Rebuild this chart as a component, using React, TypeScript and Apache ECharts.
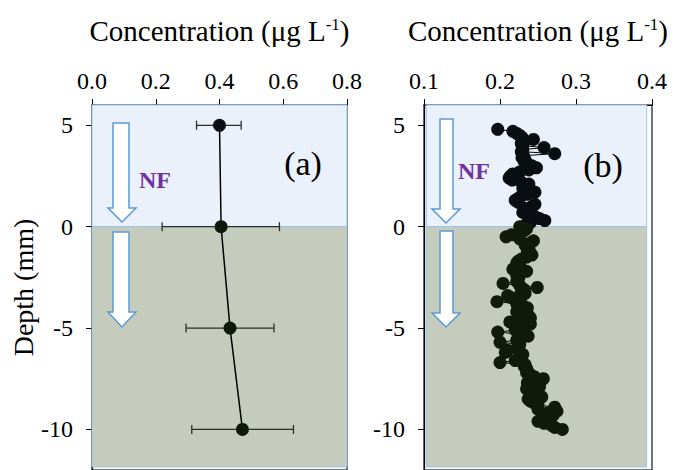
import React, { useEffect, useRef } from "react";
import * as echarts from "echarts";

// Panel (a): depth profile with error bars
const depthA = [5, 0, -5, -10];
const concA = [0.4, 0.405, 0.433, 0.472];
const errLowA = [0.328, 0.22, 0.295, 0.313];
const errHighA = [0.468, 0.588, 0.571, 0.632];

// Panel (b): high-resolution depth profile
const depthB = [
  4.8, 4.7, 4.6, 4.5, 4.4, 4.3, 4.2, 4.1, 4.0, 3.9, 3.8, 3.7, 3.6, 3.5, 3.4, 3.3, 3.2, 3.1, 3.0,
  2.9, 2.8, 2.7, 2.6, 2.5, 2.4, 2.3, 2.2, 2.1, 2.0, 1.9, 1.8, 1.7, 1.6, 1.5, 1.4, 1.3, 1.2, 1.1,
  1.0, 0.9, 0.8, 0.7, 0.6, 0.5, 0.4, 0.3, 0.2, 0.1, 0.0,
  -0.1, -0.2, -0.3, -0.4, -0.5, -0.6, -0.7, -0.8, -0.9, -1.0, -1.1, -1.2, -1.3, -1.4, -1.5,
  -1.6, -1.7, -1.8, -1.9, -2.0, -2.1, -2.2, -2.3, -2.4, -2.5, -2.6, -2.7, -2.8, -2.9, -3.0,
  -3.1, -3.2, -3.3, -3.4, -3.5, -3.6, -3.7, -3.8, -3.9, -4.0, -4.1, -4.2, -4.3, -4.4, -4.5,
  -4.6, -4.7, -4.8, -4.9, -5.0, -5.1, -5.2, -5.3, -5.4, -5.5, -5.6, -5.7, -5.8, -5.9, -6.0,
  -6.1, -6.2, -6.3, -6.4, -6.5, -6.6, -6.7, -6.8, -6.9, -7.0, -7.1, -7.2, -7.3, -7.4, -7.5,
  -7.6, -7.7, -7.8, -7.9, -8.0, -8.1, -8.2, -8.3, -8.4, -8.5, -8.6, -8.7, -8.8, -8.9, -9.0,
  -9.1, -9.2, -9.3, -9.4, -9.5, -9.6, -9.7, -9.8, -9.9, -10.0,
];
const concB = [
  0.197, 0.217, 0.222, 0.226, 0.229, 0.244, 0.232, 0.228, 0.23, 0.258, 0.23, 0.228, 0.272, 0.231,
  0.229, 0.233, 0.232, 0.236, 0.242, 0.248, 0.238, 0.226, 0.217, 0.214, 0.212, 0.216, 0.228, 0.238,
  0.236, 0.23, 0.24, 0.246, 0.236, 0.228, 0.224, 0.22, 0.224, 0.246, 0.242, 0.234, 0.236, 0.23,
  0.238, 0.246, 0.252, 0.259, 0.24, 0.234, 0.226,
  0.235, 0.232, 0.225, 0.215, 0.208, 0.226, 0.244, 0.24, 0.233, 0.235, 0.238, 0.236, 0.24, 0.242,
  0.235, 0.228, 0.224, 0.222, 0.226, 0.222, 0.217, 0.235, 0.226, 0.222, 0.225, 0.223, 0.222,
  0.204, 0.226, 0.249, 0.232, 0.228, 0.233, 0.21, 0.215, 0.225, 0.196, 0.222, 0.23, 0.236, 0.232,
  0.222, 0.235, 0.238, 0.24, 0.228, 0.213, 0.24, 0.232, 0.225, 0.22, 0.197, 0.228, 0.237, 0.226,
  0.222, 0.2, 0.226, 0.225, 0.222, 0.21, 0.207, 0.23, 0.228, 0.226, 0.22, 0.2, 0.233, 0.232, 0.235,
  0.236, 0.235, 0.24, 0.245, 0.257, 0.238, 0.236, 0.238, 0.252, 0.235, 0.238, 0.242, 0.25, 0.255,
  0.237, 0.24, 0.245, 0.25, 0.272, 0.25, 0.275, 0.262, 0.27, 0.262, 0.255, 0.25, 0.258, 0.268,
  0.272, 0.282,
];

const yTicks = [5, 0, -5, -10];

const FONT = "Liberation Serif";
const BLUE_BG = "#EBF1FA";
const GRAY_BG = "#C5CCBD";
const EDGE = "#9DC3E6";
const ARROW = "#5B9BD5";

function arrow(x0: number, x1: number, hx0: number, hx1: number, top: number, head: number, tip: number) {
  const cx = (hx0 + hx1) / 2;
  return {
    type: "polygon",
    z: 50,
    shape: {
      points: [
        [x0, top],
        [x1, top],
        [x1, head],
        [hx1, head],
        [cx, tip],
        [hx0, head],
        [x0, head],
      ],
    },
    style: { fill: "#ffffff", stroke: ARROW, lineWidth: 1.5 },
  };
}

export default function App() {
  const ref = useRef<HTMLDivElement>(null);
  useEffect(() => {
    if (!ref.current) return;
    const chart = echarts.init(ref.current, undefined, { renderer: "svg" });

    const axisName = {
      a: { fontFamily: FONT, fontSize: 29, color: "#000" },
      sup: { fontFamily: FONT, fontSize: 17, color: "#000", verticalAlign: "top", padding: [0, 0, 12, 0] },
    };

    const xAxisCommon = (min: number, max: number, interval: number) => ({
      type: "value",
      position: "top",
      min,
      max,
      interval,
      name: "{a|Concentration (μg L}{sup|-1}{a|)}",
      nameLocation: "middle",
      nameGap: 60,
      nameTextStyle: { rich: axisName },
      axisLine: { show: true, onZero: false, lineStyle: { color: "#000", width: 1.2 } },
      axisTick: { show: true, inside: false, length: 6, lineStyle: { color: "#000" } },
      axisLabel: {
        fontFamily: FONT,
        fontSize: 24,
        color: "#000",
        margin: 12,
        formatter: (v: number) => v.toFixed(1),
      },
      splitLine: { show: false },
    });

    const yAxisCommon = (showName: boolean) => ({
      type: "value",
      min: -12,
      max: 6,
      name: showName ? "Depth (mm)" : "",
      nameLocation: "middle",
      nameGap: 50,
      nameTextStyle: { fontFamily: FONT, fontSize: 28, color: "#000" },
      axisLine: { show: true, onZero: false, lineStyle: { color: "#000", width: 1.2 } },
      axisTick: { show: true, length: 6, customValues: yTicks, lineStyle: { color: "#000" } },
      axisLabel: {
        fontFamily: FONT,
        fontSize: 24,
        color: "#000",
        margin: 19,
        customValues: yTicks,
      },
      splitLine: { show: false },
    });

    const bgAreas = (x0: number, x1: number) => ({
      silent: true,
      data: [
        [
          { xAxis: x0, yAxis: 6, itemStyle: { color: BLUE_BG, borderColor: EDGE, borderWidth: 1 } },
          { xAxis: x1, yAxis: 0 },
        ],
        [
          { xAxis: x0, yAxis: 0, itemStyle: { color: GRAY_BG, borderColor: EDGE, borderWidth: 1 } },
          { xAxis: x1, yAxis: -11.85 },
        ],
      ],
    });

    const dataA = depthA.map((d, i) => ({
      value: [concA[i], d],
      itemStyle: { color: d > 0 ? "#0b0f14" : "#10180c" },
    }));
    const errA = depthA.map((d, i) => [errLowA[i], errHighA[i], d]);
    const dataB = depthB.map((d, i) => ({
      value: [concB[i], d],
      itemStyle: { color: d > 0 ? "#0a0d12" : "#111a0b" },
    }));

    chart.setOption({
      animation: false,
      grid: [
        { left: 92, top: 105, width: 255, height: 365, show: true, borderColor: "#3a4654", borderWidth: 1.5, backgroundColor: "transparent" },
        { left: 424, top: 105, width: 228, height: 365, show: true, borderColor: "#3a4654", borderWidth: 1.5, backgroundColor: "transparent" },
      ],
      xAxis: [
        { ...xAxisCommon(0, 0.8, 0.2), gridIndex: 0 },
        { ...xAxisCommon(0.1, 0.4, 0.1), gridIndex: 1 },
      ],
      yAxis: [
        { ...yAxisCommon(true), gridIndex: 0 },
        { ...yAxisCommon(false), gridIndex: 1 },
      ],
      series: [
        {
          type: "custom",
          xAxisIndex: 0,
          yAxisIndex: 0,
          z: 3,
          markArea: bgAreas(0, 0.8),
          data: errA,
          renderItem: (params: any, api: any) => {
            const lo = api.coord([api.value(0), api.value(2)]);
            const hi = api.coord([api.value(1), api.value(2)]);
            const c = 4.5;
            const st = { stroke: "#2b2f2b", lineWidth: 1.3 };
            return {
              type: "group",
              children: [
                { type: "line", shape: { x1: lo[0], y1: lo[1], x2: hi[0], y2: hi[1] }, style: st },
                { type: "line", shape: { x1: lo[0], y1: lo[1] - c, x2: lo[0], y2: lo[1] + c }, style: st },
                { type: "line", shape: { x1: hi[0], y1: hi[1] - c, x2: hi[0], y2: hi[1] + c }, style: st },
              ],
            };
          },
        },
        {
          type: "line",
          xAxisIndex: 0,
          yAxisIndex: 0,
          z: 4,
          data: dataA,
          symbol: "circle",
          symbolSize: 13,
          lineStyle: { color: "#000", width: 1.5 },
        },
        {
          type: "line",
          xAxisIndex: 1,
          yAxisIndex: 1,
          z: 4,
          markArea: bgAreas(0.103, 0.393),
          data: dataB,
          symbol: "circle",
          symbolSize: 13,
          lineStyle: { color: "#000", width: 1 },
        },
      ],
      graphic: [
        arrow(113, 129, 108, 136, 123, 208, 222),
        arrow(113, 129, 108, 136, 232, 312, 327),
        arrow(440, 453, 432, 460, 119, 209, 223),
        arrow(440, 453, 432, 460, 231, 313, 327),
        {
          type: "text",
          z: 50,
          x: 155,
          y: 180,
          style: { text: "NF", fontFamily: FONT, fontWeight: "bold", fontSize: 24, fill: "#7030A0", align: "center", verticalAlign: "middle" },
        },
        {
          type: "text",
          z: 50,
          x: 474,
          y: 171,
          style: { text: "NF", fontFamily: FONT, fontWeight: "bold", fontSize: 24, fill: "#7030A0", align: "center", verticalAlign: "middle" },
        },
        {
          type: "text",
          z: 50,
          x: 303,
          y: 163,
          style: { text: "(a)", fontFamily: FONT, fontSize: 34, fill: "#000", align: "center", verticalAlign: "middle" },
        },
        {
          type: "text",
          z: 50,
          x: 603,
          y: 165,
          style: { text: "(b)", fontFamily: FONT, fontSize: 34, fill: "#000", align: "center", verticalAlign: "middle" },
        },
      ],
    });
    return () => chart.dispose();
  }, []);

  return (
    <div
      ref={ref}
      style={{ position: "fixed", left: 0, top: 0, width: 674, height: 470, background: "#fff" }}
    />
  );
}
